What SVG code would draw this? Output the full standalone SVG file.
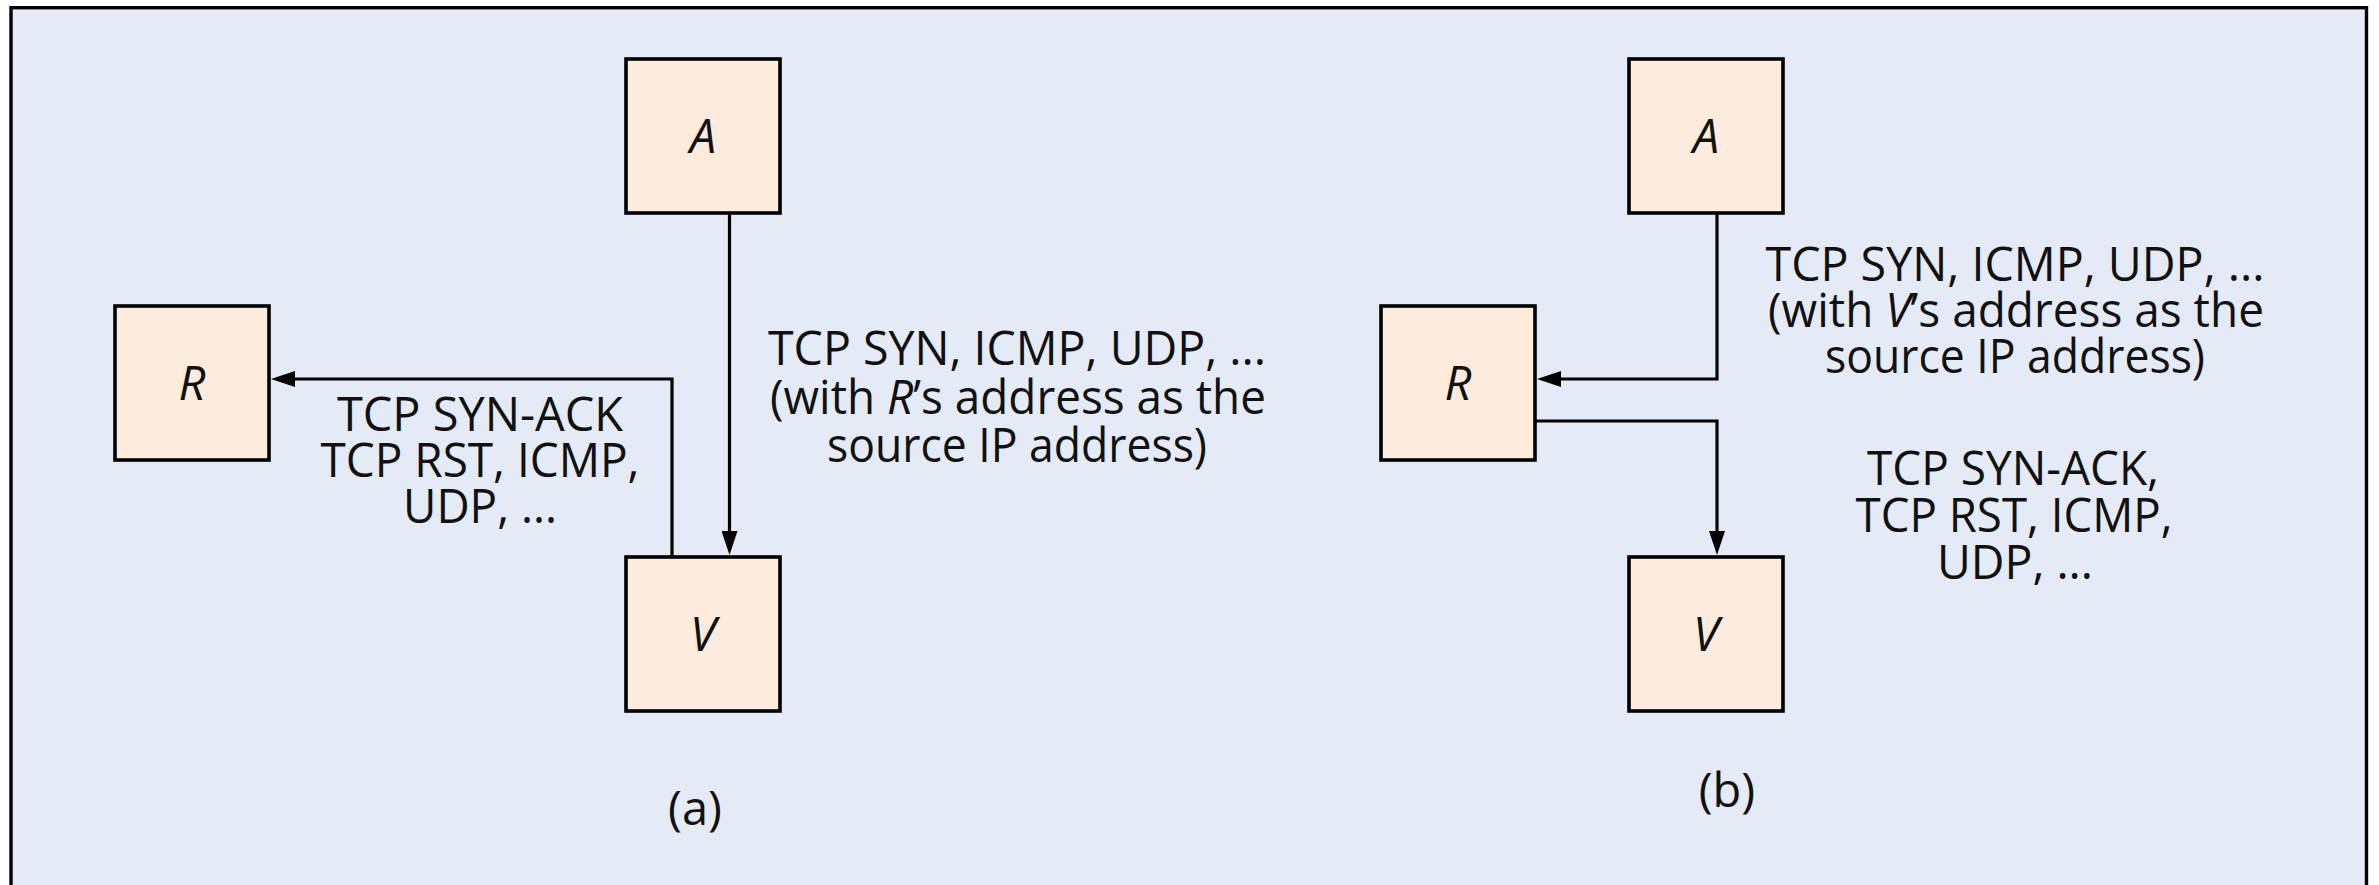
<svg xmlns="http://www.w3.org/2000/svg" width="2379" height="885" viewBox="0 0 2379 885">
  <defs>
    <style>
      .frame { fill: #e4ebf6; stroke: #000; stroke-width: 3.4; }
      .node rect { fill: #fdecdd; stroke: #000; stroke-width: 3.6; }
      .node text { font-family: "Open Sans", "Noto Sans", sans-serif; font-style: italic; font-size: 47px; fill: #111; text-anchor: middle; }
      .wire { fill: none; stroke: #000; stroke-width: 3.2; marker-end: url(#arrow); }
      .label { font-family: "Open Sans", "Noto Sans", sans-serif; font-size: 47px; fill: #111; text-anchor: middle; }
      .label .it { font-style: italic; }
    </style>
    <marker id="arrow" viewBox="0 0 24 16" refX="14" refY="8" markerWidth="24" markerHeight="16" markerUnits="userSpaceOnUse" orient="auto">
      <path d="M0,0 L24,8 L0,16 Z" fill="#000"/>
    </marker>
  </defs>

  <!-- outer frame, open at the bottom edge -->
  <rect class="frame" x="11" y="7.7" width="2355.5" height="900"/>

  <!-- (a) direct reflection -->
  <g id="a-node-A" class="node">
    <rect x="626" y="59" width="154" height="154"/>
    <text x="703" y="153">A</text>
  </g>
  <g id="a-node-R" class="node">
    <rect x="115" y="306" width="154" height="154"/>
    <text x="192" y="400">R</text>
  </g>
  <g id="a-node-V" class="node">
    <rect x="626" y="557" width="154" height="154"/>
    <text x="703" y="651">V</text>
  </g>

  <!-- (b) reflector attack -->
  <g id="b-node-A" class="node">
    <rect x="1629" y="59" width="154" height="154"/>
    <text x="1706" y="153">A</text>
  </g>
  <g id="b-node-R" class="node">
    <rect x="1381" y="306" width="154" height="154"/>
    <text x="1458" y="400">R</text>
  </g>
  <g id="b-node-V" class="node">
    <rect x="1629" y="557" width="154" height="154"/>
    <text x="1706" y="651">V</text>
  </g>

  <g id="connectors">
    <!-- (a) A to V -->
    <path class="wire" d="M729.5,213 V545"/>
    <!-- (a) V back to R -->
    <path class="wire" d="M672,557 V379 H281"/>
    <!-- (b) A to R -->
    <path class="wire" d="M1717,213 V379 H1547"/>
    <!-- (b) R to V -->
    <path class="wire" d="M1535,421 H1717 V545"/>
  </g>

  <g id="labels" class="label">
    <text x="480" y="431" textLength="286" lengthAdjust="spacingAndGlyphs">TCP SYN-ACK</text>
    <text x="480" y="477" textLength="319" lengthAdjust="spacingAndGlyphs">TCP RST, ICMP,</text>
    <text x="480" y="523" textLength="154" lengthAdjust="spacingAndGlyphs">UDP, ...</text>

    <text x="1017" y="365" textLength="498" lengthAdjust="spacingAndGlyphs">TCP SYN, ICMP, UDP, ...</text>
    <text x="1018" y="414" textLength="496" lengthAdjust="spacingAndGlyphs">(with <tspan class="it">R</tspan>’s address as the</text>
    <text x="1017" y="462" textLength="380" lengthAdjust="spacingAndGlyphs">source IP address)</text>

    <text x="2015" y="281" textLength="499" lengthAdjust="spacingAndGlyphs">TCP SYN, ICMP, UDP, ...</text>
    <text x="2016" y="327" textLength="496" lengthAdjust="spacingAndGlyphs">(with <tspan class="it">V</tspan>’s address as the</text>
    <text x="2015" y="373" textLength="380" lengthAdjust="spacingAndGlyphs">source IP address)</text>

    <text x="2013" y="485" textLength="292" lengthAdjust="spacingAndGlyphs">TCP SYN-ACK,</text>
    <text x="2014" y="532" textLength="317" lengthAdjust="spacingAndGlyphs">TCP RST, ICMP,</text>
    <text x="2015" y="579" textLength="156" lengthAdjust="spacingAndGlyphs">UDP, ...</text>

    <text x="695" y="825">(a)</text>
    <text x="1727" y="807">(b)</text>
  </g>
</svg>
